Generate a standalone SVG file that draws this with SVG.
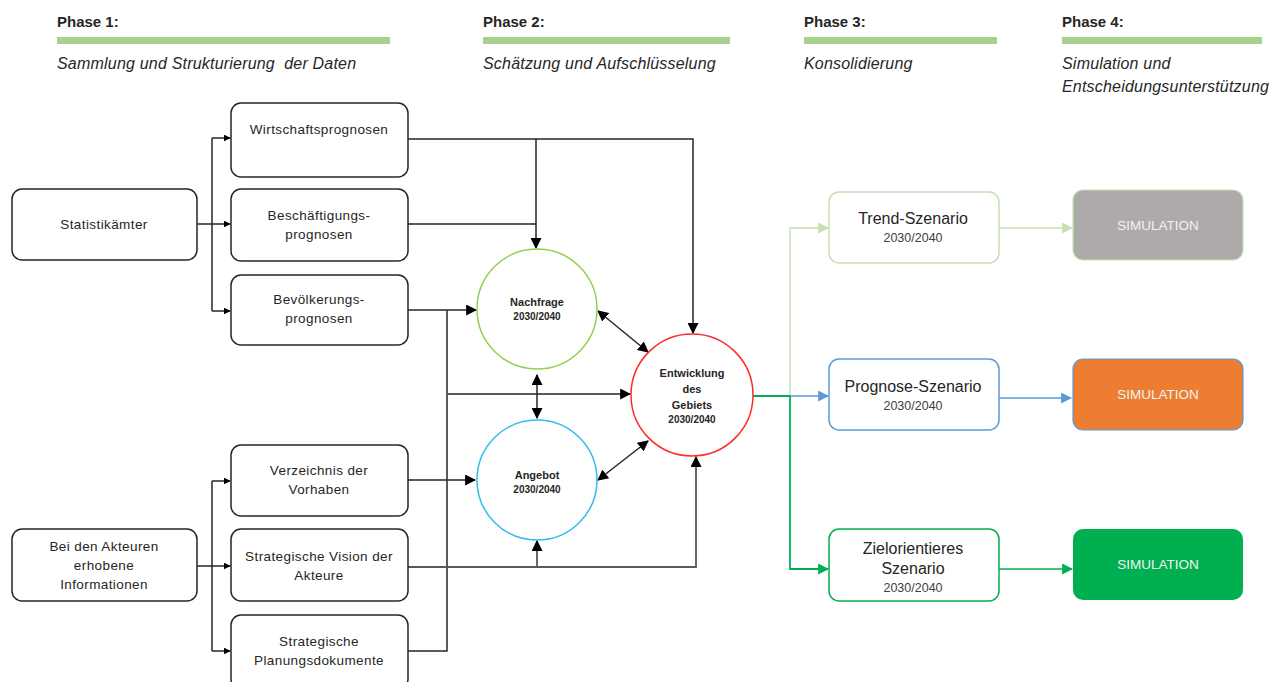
<svg xmlns="http://www.w3.org/2000/svg" width="1272" height="682" viewBox="0 0 1272 682">
<style>
text{font-family:"Liberation Sans",Arial,sans-serif;fill:#262626}
.ph{font-size:15px;font-weight:bold}
.sub{font-size:16px;font-style:italic;letter-spacing:0.2px;white-space:pre}
.bx{fill:#fff;stroke:#262626;stroke-width:1.5}
.t{font-size:13.5px;text-anchor:middle;letter-spacing:0.4px}
.c{font-size:11px;font-weight:bold;text-anchor:middle}
.cs{font-size:10px;font-weight:bold;text-anchor:middle}
.ln{fill:none;stroke:#262626;stroke-width:1.5}
.lg{fill:none;stroke:#595959;stroke-width:1.8}
.st{font-size:16px;text-anchor:middle}
.yr{font-size:12.5px;text-anchor:middle;fill:#404040}
.sim{font-size:13.5px;text-anchor:middle;fill:#f2f2f2}
</style>
<defs>
<marker id="a" viewBox="0 0 10 10" refX="9" refY="5" markerWidth="7" markerHeight="7" orient="auto-start-reverse" markerUnits="userSpaceOnUse"><path d="M0,0L10,5L0,10z" fill="#000"/></marker>
<marker id="ab" viewBox="0 0 10 10" refX="9" refY="5" markerWidth="11" markerHeight="11" orient="auto-start-reverse" markerUnits="userSpaceOnUse"><path d="M0,0L10,5L0,10z" fill="#000"/></marker>
<marker id="alg" viewBox="0 0 10 10" refX="9" refY="5" markerWidth="11" markerHeight="11" orient="auto" markerUnits="userSpaceOnUse"><path d="M0,0L10,5L0,10z" fill="#c5e0b4"/></marker>
<marker id="abl" viewBox="0 0 10 10" refX="9" refY="5" markerWidth="11" markerHeight="11" orient="auto" markerUnits="userSpaceOnUse"><path d="M0,0L10,5L0,10z" fill="#5b9bd5"/></marker>
<marker id="agr" viewBox="0 0 10 10" refX="9" refY="5" markerWidth="11" markerHeight="11" orient="auto" markerUnits="userSpaceOnUse"><path d="M0,0L10,5L0,10z" fill="#00b050"/></marker>
</defs>
<rect width="1272" height="682" fill="#fff"/>

<g id="phases">
<text class="ph" x="57" y="27">Phase 1:</text>
<rect x="57" y="37" width="333" height="7" fill="#a9d18e"/>
<text class="sub" x="57" y="69">Sammlung und Strukturierung  der Daten</text>
<text class="ph" x="483" y="27">Phase 2:</text>
<rect x="483" y="37" width="247" height="7" fill="#a9d18e"/>
<text class="sub" x="483" y="69">Schätzung und Aufschlüsselung</text>
<text class="ph" x="804" y="27">Phase 3:</text>
<rect x="804" y="37" width="193" height="7" fill="#a9d18e"/>
<text class="sub" x="804" y="69">Konsolidierung</text>
<text class="ph" x="1062" y="27">Phase 4:</text>
<rect x="1062" y="37" width="200" height="7" fill="#a9d18e"/>
<text class="sub" x="1062" y="69">Simulation und</text>
<text class="sub" x="1062" y="92">Entscheidungsunterstützung</text>
</g>

<g id="connectors">
<path class="ln" d="M197,224H212"/>
<path class="ln" d="M212,138V311"/>
<path class="ln" d="M212,138H230" marker-end="url(#a)"/>
<path class="ln" d="M212,224H230" marker-end="url(#a)"/>
<path class="ln" d="M212,311H230" marker-end="url(#a)"/>
<path class="ln" d="M197,566H212"/>
<path class="ln" d="M212,481V651"/>
<path class="ln" d="M212,481H230" marker-end="url(#a)"/>
<path class="ln" d="M212,566H230" marker-end="url(#a)"/>
<path class="ln" d="M212,651H230" marker-end="url(#a)"/>
<path class="ln" d="M408,139H693V333" marker-end="url(#ab)"/>
<path class="ln" d="M536,139V248" marker-end="url(#ab)"/>
<path class="ln" d="M408,224H536"/>
<path class="ln" d="M408,310H476" marker-end="url(#ab)"/>
<path class="ln" d="M447,310V651H408"/>
<path class="lg" d="M447,394H630" marker-end="url(#ab)"/>
<path class="ln" d="M408,480H475" marker-end="url(#ab)"/>
<path class="lg" d="M408,567H696V457" marker-end="url(#ab)"/>
<path class="lg" d="M537,567V541" marker-end="url(#ab)"/>
<path class="ln" d="M537,375V418" marker-start="url(#ab)" marker-end="url(#ab)"/>
<path class="ln" d="M598,311L648,352" marker-start="url(#ab)" marker-end="url(#ab)"/>
<path class="ln" d="M598,480L648,441" marker-start="url(#ab)" marker-end="url(#ab)"/>
<path fill="none" stroke="#c5e0b4" stroke-width="1.5" d="M790,396V228H828" marker-end="url(#alg)"/>
<path fill="none" stroke="#5b9bd5" stroke-width="1.5" d="M790,396H828" marker-end="url(#abl)"/>
<path fill="none" stroke="#00b050" stroke-width="1.8" d="M753,396H790V569H828" marker-end="url(#agr)"/>
<path fill="none" stroke="#c5e0b4" stroke-width="1.5" d="M999,228H1072" marker-end="url(#alg)"/>
<path fill="none" stroke="#5b9bd5" stroke-width="1.5" d="M999,398H1071" marker-end="url(#abl)"/>
<path fill="none" stroke="#00b050" stroke-width="1.5" d="M999,569H1072" marker-end="url(#agr)"/>
</g>

<g id="statistikaemter">
<rect class="bx" x="12" y="189" width="185" height="71" rx="10"/>
<text class="t" x="104" y="229">Statistikämter</text>
</g>
<g id="wirtschaftsprognosen">
<rect class="bx" x="231" y="103" width="177" height="74" rx="10"/>
<text class="t" x="319" y="134">Wirtschaftsprognosen</text>
</g>
<g id="beschaeftigungsprognosen">
<rect class="bx" x="231" y="189" width="177" height="72" rx="10"/>
<text class="t" x="319" y="220">Beschäftigungs-</text>
<text class="t" x="319" y="239">prognosen</text>
</g>
<g id="bevoelkerungsprognosen">
<rect class="bx" x="231" y="275" width="177" height="70" rx="10"/>
<text class="t" x="319" y="304">Bevölkerungs-</text>
<text class="t" x="319" y="323">prognosen</text>
</g>
<g id="akteure-info">
<rect class="bx" x="12" y="529" width="185" height="72" rx="10"/>
<text class="t" x="104" y="551">Bei den Akteuren</text>
<text class="t" x="104" y="570">erhobene</text>
<text class="t" x="104" y="589">Informationen</text>
</g>
<g id="verzeichnis">
<rect class="bx" x="231" y="445" width="177" height="71" rx="10"/>
<text class="t" x="319" y="475">Verzeichnis der</text>
<text class="t" x="319" y="494">Vorhaben</text>
</g>
<g id="vision">
<rect class="bx" x="231" y="529" width="177" height="72" rx="10"/>
<text class="t" x="319" y="561">Strategische Vision der</text>
<text class="t" x="319" y="580">Akteure</text>
</g>
<g id="planungsdokumente">
<rect class="bx" x="231" y="615" width="177" height="74" rx="10"/>
<text class="t" x="319" y="646">Strategische</text>
<text class="t" x="319" y="665">Planungsdokumente</text>
</g>

<g id="nachfrage">
<circle cx="537" cy="309" r="60" fill="#fff" stroke="#92d050" stroke-width="1.5"/>
<text class="c" x="537" y="306">Nachfrage</text>
<text class="cs" x="537" y="320">2030/2040</text>
</g>
<g id="angebot">
<circle cx="537" cy="480" r="60" fill="#fff" stroke="#33bbf0" stroke-width="1.5"/>
<text class="c" x="537" y="479">Angebot</text>
<text class="cs" x="537" y="493">2030/2040</text>
</g>
<g id="entwicklung">
<circle cx="692" cy="395" r="61" fill="#fff" stroke="#ff2a2a" stroke-width="1.5"/>
<text class="c" x="692" y="377">Entwicklung</text>
<text class="c" x="692" y="393">des</text>
<text class="c" x="692" y="409">Gebiets</text>
<text class="cs" x="692" y="423">2030/2040</text>
</g>

<g id="trend">
<rect x="829" y="192" width="170" height="71" rx="10" fill="#fff" stroke="#c5e0b4" stroke-width="1.5"/>
<text class="st" x="913" y="224">Trend-Szenario</text>
<text class="yr" x="913" y="242">2030/2040</text>
</g>
<g id="prognose">
<rect x="829" y="359" width="170" height="71" rx="10" fill="#fff" stroke="#5b9bd5" stroke-width="1.5"/>
<text class="st" x="913" y="392">Prognose-Szenario</text>
<text class="yr" x="913" y="410">2030/2040</text>
</g>
<g id="ziel">
<rect x="829" y="529" width="170" height="72" rx="10" fill="#fff" stroke="#00b050" stroke-width="1.5"/>
<text class="st" x="913" y="554">Zielorientieres</text>
<text class="st" x="913" y="574">Szenario</text>
<text class="yr" x="913" y="592">2030/2040</text>
</g>
<g id="sim-trend">
<rect x="1073" y="190" width="170" height="70" rx="10" fill="#aeaaaa" stroke="#c5e0b4" stroke-width="1.2"/>
<text class="sim" x="1158" y="230">SIMULATION</text>
</g>
<g id="sim-prognose">
<rect x="1073" y="359" width="170" height="71" rx="10" fill="#ed7d31" stroke="#5b9bd5" stroke-width="1.2"/>
<text class="sim" x="1158" y="399">SIMULATION</text>
</g>
<g id="sim-ziel">
<rect x="1073" y="529" width="170" height="71" rx="10" fill="#00b050"/>
<text class="sim" x="1158" y="569">SIMULATION</text>
</g>
</svg>
